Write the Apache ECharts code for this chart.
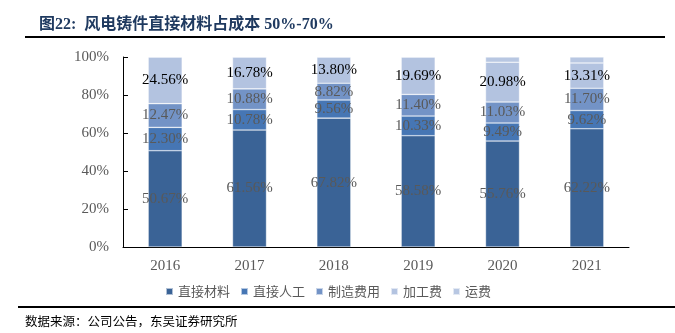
<!DOCTYPE html>
<html><head><meta charset="utf-8">
<script src="https://cdn.jsdelivr.net/npm/echarts@6/dist/echarts.min.js"></script>
<style>html,body{margin:0;padding:0;background:#fff}#c{width:675px;height:333px}</style>
</head><body><div id="c"></div>
<script>
const years = ['2016','2017','2018','2019','2020','2021'];
const directMaterial = [50.67, 61.56, 67.82, 58.58, 55.76, 62.22];
const directLabor = [12.30, 10.78, 9.56, 10.33, 9.49, 9.62];
const manufacturing = [12.47, 10.88, 8.82, 11.40, 11.03, 11.70];
const processing = [24.56, 16.78, 13.80, 19.69, 20.98, 13.31];
const freight = [0, 0, 0, 0, 2.74, 3.15];
const yTicks = [0, 20, 40, 60, 80, 100];

const serif = '"Liberation Serif","Times New Roman","Noto Sans CJK SC",serif';
const cjk = '"Noto Sans CJK SC",sans-serif';
const chart = echarts.init(document.getElementById('c'));
function mk(name, data, color, labelColor, showLabel, border) {
  return {
    name, type: 'bar', stack: 'a', data, barWidth: 34,
    itemStyle: { color, borderColor: 'rgba(255,255,255,0.6)', borderWidth: border },
    label: { show: showLabel, position: 'inside', color: labelColor, fontFamily: serif, fontSize: 15,
      formatter: p => p.value.toFixed(2) + '%' },
    emphasis: { disabled: true }
  };
}
chart.setOption({
  animation: false,
  title: { text: '图22:  风电铸件直接材料占成本 50%-70%', left: 34, top: 12,
    textStyle: { fontFamily: serif, fontWeight: 'bold', fontSize: 16, color: '#1F3A60' } },
  grid: { left: 123, right: 46, top: 57, bottom: 86 },
  legend: { left: 160, top: 280, itemWidth: 7, itemHeight: 7, itemGap: 10,
    icon: 'rect', textStyle: { fontFamily: cjk, fontSize: 13, color: '#595959' },
    data: ['直接材料','直接人工','制造费用','加工费','运费'] },
  xAxis: { type: 'category', data: years,
    axisLine: { lineStyle: { color: '#000', width: 1 } },
    axisTick: { inside: true, length: 5, lineStyle: { color: '#000' } },
    axisLabel: { fontFamily: serif, fontSize: 15, color: '#595959', margin: 12 } },
  yAxis: { type: 'value', min: 0, max: 100, interval: 20,
    splitLine: { show: false },
    axisLine: { show: true, lineStyle: { color: '#000', width: 1 } },
    axisTick: { show: true, inside: true, length: 5, lineStyle: { color: '#000' } },
    axisLabel: { fontFamily: serif, fontSize: 15, color: '#595959', margin: 14,
      formatter: v => yTicks.includes(v) ? v + '%' : '' } },
  series: [
    mk('直接材料', directMaterial, '#3A6396', '#595959', true, 0.6),
    mk('直接人工', directLabor, '#4676B4', '#595959', true, 0.6),
    mk('制造费用', manufacturing, '#7393C6', '#595959', true, 0.6),
    mk('加工费', processing, '#B3C3E0', '#000', true, 0.6),
    mk('运费', freight, '#B8C7E2', '#000', false, 0.6)
  ],
  graphic: [
    { type: 'line', shape: { x1: 25, y1: 37, x2: 665, y2: 37 }, style: { stroke: '#000', lineWidth: 2 } },
    { type: 'line', shape: { x1: 18, y1: 307, x2: 675, y2: 307 }, style: { stroke: '#000', lineWidth: 2 } },
    { type: 'text', left: 25, top: 315, style: { text: '数据来源：公司公告，东吴证券研究所', font: '12.5px ' + cjk, fill: '#000' } }
  ]
});
</script></body></html>
